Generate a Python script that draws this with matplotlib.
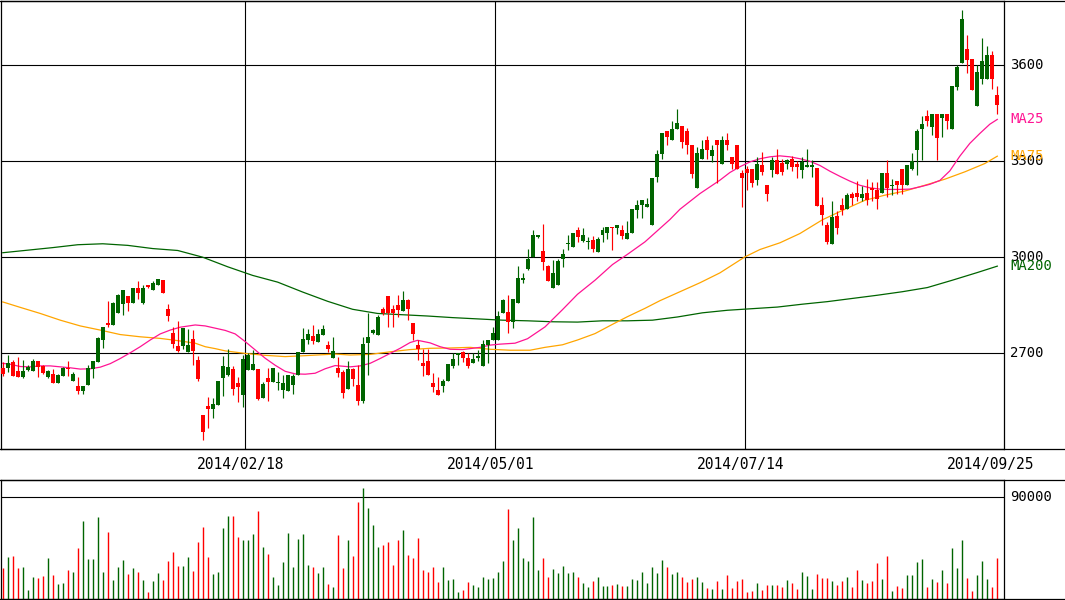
import matplotlib
matplotlib.use("Agg")
import matplotlib.pyplot as plt
import matplotlib.transforms as mtrans
from matplotlib.lines import Line2D

# ---------------- data ----------------
opens = [2654, 2654, 2671, 2643, 2626, 2648, 2644, 2675, 2659, 2626,
         2634, 2607, 2629, 2654, 2613, 2596, 2581, 2600, 2649, 2672,
         2740, 2793, 2788, 2824, 2855, 2878, 2857, 2904, 2857, 2912,
         2896, 2912, 2928, 2839, 2764, 2721, 2722, 2704, 2745, 2678,
         2506, 2534, 2525, 2537, 2622, 2633, 2649, 2607, 2568, 2647,
         2647, 2649, 2558, 2621, 2610, 2605, 2586, 2581, 2600, 2633,
         2702, 2740, 2753, 2735, 2758, 2725, 2685, 2654, 2641, 2589,
         2650, 2600, 2551, 2733, 2764, 2758, 2839, 2878, 2839, 2850,
         2832, 2865, 2795, 2725, 2669, 2675, 2605, 2584, 2597, 2612,
         2660, 2693, 2702, 2685, 2670, 2685, 2660, 2725, 2740, 2740,
         2824, 2829, 2796, 2858, 2930, 2962, 3001, 3064, 3019, 2972,
         2904, 2913, 2993, 3040, 3032, 3084, 3050, 3046, 3053, 3015,
         3071, 3076, 3095, 3090, 3084, 3058, 3076, 3149, 3162, 3157,
         3100, 3251, 3324, 3394, 3366, 3400, 3409, 3394, 3350, 3217,
         3308, 3368, 3317, 3368, 3293, 3368, 3313, 3350, 3264, 3277,
         3277, 3241, 3288, 3227, 3272, 3303, 3295, 3293, 3308, 3293,
         3272, 3282, 3282, 3279, 3162, 3100, 3040, 3128, 3162, 3152,
         3199, 3202, 3185, 3202, 3218, 3209, 3201, 3264, 3223, 3237,
         3275, 3225, 3275, 3334, 3400, 3442, 3407, 3449, 3435, 3449,
         3400, 3532, 3607, 3650, 3619, 3473, 3556, 3556, 3634, 3508]
highs = [2673, 2693, 2678, 2688, 2678, 2664, 2681, 2675, 2662, 2647,
         2649, 2636, 2657, 2675, 2641, 2626, 2596, 2662, 2675, 2751,
         2781, 2863, 2860, 2886, 2896, 2878, 2904, 2925, 2912, 2912,
         2925, 2931, 2928, 2853, 2782, 2801, 2779, 2775, 2771, 2690,
         2506, 2563, 2558, 2612, 2690, 2712, 2660, 2626, 2693, 2699,
         2709, 2649, 2610, 2654, 2654, 2641, 2633, 2631, 2636, 2702,
         2780, 2775, 2787, 2775, 2789, 2737, 2751, 2688, 2646, 2675,
         2654, 2664, 2751, 2824, 2775, 2818, 2845, 2878, 2850, 2881,
         2893, 2870, 2795, 2740, 2714, 2712, 2639, 2626, 2620, 2667,
         2699, 2699, 2707, 2699, 2699, 2709, 2740, 2740, 2782, 2831,
         2869, 2881, 2869, 2972, 2950, 3025, 3084, 3069, 3103, 2977,
         2991, 2993, 3025, 3069, 3077, 3095, 3091, 3064, 3066, 3064,
         3095, 3095, 3095, 3100, 3100, 3112, 3150, 3180, 3178, 3185,
         3249, 3334, 3387, 3394, 3425, 3463, 3409, 3404, 3350, 3345,
         3368, 3378, 3350, 3368, 3378, 3389, 3313, 3350, 3272, 3284,
         3277, 3313, 3329, 3227, 3313, 3337, 3308, 3308, 3317, 3300,
         3313, 3337, 3303, 3279, 3189, 3110, 3175, 3144, 3185, 3201,
         3204, 3237, 3223, 3244, 3235, 3235, 3264, 3303, 3244, 3237,
         3275, 3288, 3327, 3402, 3442, 3459, 3449, 3449, 3449, 3449,
         3534, 3600, 3772, 3694, 3619, 3602, 3685, 3662, 3645, 3537]
lows = [2629, 2641, 2629, 2626, 2623, 2645, 2644, 2626, 2636, 2623,
        2605, 2607, 2629, 2629, 2613, 2573, 2573, 2600, 2623, 2672,
        2716, 2782, 2788, 2824, 2820, 2831, 2857, 2870, 2855, 2905,
        2896, 2912, 2888, 2801, 2717, 2704, 2712, 2704, 2662, 2612,
        2428, 2466, 2497, 2537, 2566, 2629, 2568, 2548, 2532, 2647,
        2647, 2553, 2558, 2551, 2610, 2586, 2560, 2581, 2571, 2633,
        2702, 2730, 2730, 2735, 2758, 2702, 2685, 2626, 2560, 2589,
        2598, 2539, 2545, 2633, 2760, 2758, 2820, 2782, 2782, 2813,
        2832, 2803, 2740, 2678, 2629, 2631, 2579, 2570, 2579, 2612,
        2654, 2662, 2672, 2652, 2670, 2675, 2660, 2670, 2740, 2740,
        2824, 2764, 2779, 2858, 2920, 2959, 3001, 3060, 2959, 2926,
        2904, 2913, 2968, 3024, 3032, 3048, 3048, 3027, 3015, 3015,
        3048, 3058, 3024, 3074, 3058, 3058, 3076, 3123, 3123, 3157,
        3100, 3236, 3308, 3350, 3366, 3400, 3342, 3324, 3248, 3217,
        3308, 3308, 3298, 3233, 3293, 3334, 3277, 3275, 3157, 3209,
        3220, 3225, 3256, 3175, 3251, 3261, 3258, 3275, 3269, 3248,
        3248, 3282, 3251, 3160, 3102, 3041, 3040, 3074, 3133, 3152,
        3162, 3175, 3175, 3162, 3175, 3150, 3201, 3188, 3196, 3199,
        3199, 3225, 3272, 3258, 3303, 3410, 3383, 3303, 3376, 3400,
        3400, 3524, 3607, 3576, 3524, 3473, 3543, 3556, 3525, 3449]
closes = [2634, 2669, 2629, 2626, 2643, 2656, 2675, 2657, 2638, 2643,
          2605, 2631, 2652, 2649, 2636, 2581, 2596, 2654, 2675, 2748,
          2781, 2787, 2857, 2881, 2896, 2857, 2904, 2888, 2904, 2907,
          2920, 2931, 2888, 2815, 2728, 2707, 2777, 2725, 2707, 2618,
          2454, 2525, 2540, 2612, 2659, 2657, 2587, 2594, 2681, 2695,
          2667, 2556, 2603, 2610, 2654, 2610, 2607, 2631, 2629, 2702,
          2743, 2761, 2737, 2759, 2775, 2712, 2706, 2638, 2574, 2650,
          2620, 2551, 2730, 2751, 2771, 2813, 2824, 2824, 2827, 2834,
          2865, 2837, 2759, 2714, 2660, 2631, 2594, 2570, 2612, 2667,
          2683, 2699, 2685, 2660, 2680, 2690, 2730, 2740, 2764, 2815,
          2866, 2796, 2869, 2936, 2936, 2994, 3069, 3069, 2985, 2926,
          2952, 2988, 3010, 3043, 3077, 3064, 3069, 3050, 3027, 3058,
          3084, 3095, 3090, 3100, 3066, 3076, 3150, 3162, 3178, 3167,
          3249, 3324, 3387, 3376, 3400, 3420, 3360, 3350, 3261, 3326,
          3337, 3334, 3334, 3350, 3368, 3350, 3293, 3277, 3248, 3264,
          3232, 3293, 3267, 3199, 3303, 3261, 3267, 3303, 3282, 3282,
          3298, 3287, 3287, 3160, 3133, 3046, 3126, 3092, 3149, 3194,
          3185, 3189, 3199, 3180, 3209, 3181, 3264, 3217, 3227, 3225,
          3225, 3288, 3300, 3394, 3418, 3425, 3449, 3373, 3449, 3425,
          3534, 3595, 3744, 3616, 3524, 3579, 3613, 3634, 3556, 3477]
volumes = [27700, 37500, 38400, 27700, 28600, 8000, 19700, 18800, 20600, 36700,
           21500, 13400, 14300, 25900, 24100, 45600, 68800, 35800, 35800, 72400,
           24100, 59000, 17000, 28600, 34900, 22400, 27700, 24100, 17000, 6300,
           16100, 23200, 17000, 34000, 42000, 29500, 29500, 37500, 25000, 50100,
           63500, 37500, 22400, 24100, 62600, 73300, 73300, 55400, 52700, 52700,
           57200, 77800, 46500, 40200, 19700, 12500, 33100, 58100, 28600, 53600,
           57200, 30400, 28600, 23200, 28600, 13400, 10700, 56300, 27700, 52700,
           38400, 85800, 98300, 80500, 65300, 46500, 48300, 50100, 30400, 52700,
           60800, 39300, 36700, 54500, 25900, 24100, 28600, 15200, 28600, 17000,
           17900, 6300, 8000, 15200, 12500, 10700, 19700, 17900, 18800, 24100,
           34000, 79600, 52700, 62600, 36700, 34000, 72400, 25900, 36700, 19700,
           26800, 23200, 29500, 23200, 24100, 19700, 14300, 10700, 16100, 19700,
           11600, 11600, 12500, 13400, 11600, 11600, 17900, 17000, 24100, 14300,
           28600, 23200, 34900, 28600, 22400, 24100, 19700, 15200, 17900, 19700,
           15200, 9800, 8900, 16100, 8900, 21500, 9800, 16100, 17900, 6300,
           7200, 14300, 8000, 12500, 12500, 12500, 10700, 17000, 14300, 8900,
           24100, 20600, 8900, 22400, 18800, 18800, 16100, 12500, 16100, 19700,
           10700, 25900, 17000, 14300, 16100, 32200, 17900, 38400, 7200, 11600,
           9800, 21500, 21500, 33100, 35800, 10700, 17900, 15200, 25900, 14300,
           45600, 27700, 51900, 18800, 7200, 21500, 34000, 17900, 10700, 36700]

# moving averages: values at the given candle positions
ma25_x = [0, 1.5, 3.5, 5.5, 7.5, 9.5, 11.5, 13.5, 15.5, 17.5, 19.5, 21.5,
          23.5, 25.5, 27.5, 29.5, 31.5, 33.5, 35.5, 38.5, 40.5, 42.5, 44.5,
          46.5, 48.5, 50.5, 52.5, 54.5, 56.5, 58.5, 60.5, 62.5, 64.5, 66.5,
          69.5, 71.5, 73.5, 75.5, 77.5, 79.5, 81.5, 83, 85.5, 87.5, 89.5,
          92, 95.5, 97.5, 99.5, 102.5, 105, 108.5, 112, 115, 118.5, 122,
          125, 128.5, 131.5, 133.5, 135.5, 139.5, 141.5, 143.5, 145.5,
          147.5, 149.5, 151.5, 153.5, 155.5, 157.5, 159.5, 161.5, 163.5,
          165.5, 167.5, 169.5, 171.5, 173.5, 175.5, 177.5, 179.5, 181.5,
          183.5, 185.5, 187.5, 189.5, 191.5, 193.5, 195.5, 197.5, 199]
ma25 = [2668, 2665, 2658, 2657, 2660, 2660, 2657, 2654, 2650, 2651, 2656,
        2667, 2683, 2701, 2720, 2741, 2760, 2772, 2781, 2788, 2785, 2778,
        2771, 2760, 2736, 2710, 2684, 2662, 2643, 2635, 2634, 2637, 2651,
        2661, 2657, 2660, 2668, 2683, 2699, 2715, 2733, 2740, 2732, 2720,
        2712, 2711, 2718, 2725, 2728, 2731, 2745, 2782, 2836, 2884, 2928,
        2977, 3009, 3048, 3090, 3118, 3150, 3199, 3220, 3241, 3265, 3283,
        3298, 3308, 3314, 3317, 3314, 3308, 3300, 3287, 3269, 3253, 3238,
        3225, 3217, 3213, 3212, 3212, 3213, 3220, 3228, 3240, 3270, 3316,
        3356, 3387, 3416, 3431]
ma75_x = [0, 3.5, 7.5, 11.5, 15.5, 19.5, 23.5, 27.5, 31.5, 35, 38.5, 40.5,
          42.5, 44.5, 48.5, 52.5, 56.5, 60.5, 66.5, 69.5, 73.5, 77.5, 81.5,
          85.5, 89.5, 93.5, 97.5, 101.5, 105.5, 108.5, 112, 115, 118.5, 122,
          125, 128.5, 131.5, 135.5, 139.5, 143.5, 148.5, 151.5, 155.5,
          159.5, 164, 168.5, 172.5, 176.5, 180.5, 184.5, 188.5, 192.5,
          196.5, 199]
ma75 = [2860, 2843, 2824, 2803, 2785, 2772, 2758, 2751, 2746, 2739, 2731,
        2720, 2714, 2707, 2699, 2693, 2689, 2692, 2697, 2694, 2696, 2704,
        2711, 2715, 2716, 2718, 2712, 2709, 2709, 2718, 2726, 2741, 2761,
        2790, 2814, 2840, 2864, 2892, 2920, 2951, 3001, 3024, 3045, 3074,
        3117, 3150, 3178, 3194, 3207, 3225, 3244, 3267, 3293, 3316]
ma200_x = [0, 5, 10, 15, 20, 25, 30, 35, 40, 45, 50, 55, 60, 65, 70, 75,
           80, 85, 90, 95, 100, 105, 110, 115, 120, 125, 130, 135, 140, 145,
           150, 155, 160, 165, 170, 175, 180, 185, 190, 195, 199]
ma200 = [3014, 3022, 3030, 3039, 3042, 3037, 3027, 3021, 3000, 2970, 2943,
         2922, 2891, 2862, 2837, 2824, 2820, 2816, 2811, 2807, 2803, 2801,
         2798, 2797, 2801, 2801, 2803, 2813, 2826, 2834, 2839, 2844, 2853,
         2861, 2871, 2881, 2892, 2905, 2928, 2952, 2972]

price_ticks = [2700, 3000, 3300, 3600]
vol_ticks = [90000]
date_labels = ["2014/02/18", "2014/05/01", "2014/07/14", "2014/09/25"]
date_index = [49, 99, 149, 199]
ma_names = ["MA25", "MA75", "MA200"]

# ---------------- styling ----------------
UP = "#006400"
DOWN = "#ff0000"
MA_COLORS = ["#ff1493", "#ffa500", "#006400"]
W, H = 1065, 600
MONO = "DejaVu Sans Mono"

fig = plt.figure(figsize=(W / 100, H / 100), dpi=100)
fig.patch.set_facecolor("white")


def fr(x0, y0, x1, y1):
    return [x0 / W, 1 - y1 / H, (x1 - x0) / W, (y1 - y0) / H]


ax = fig.add_axes(fr(0.5, 0.5, 1004, 449))
axv = fig.add_axes(fr(0.5, 480, 1004, 599))

n = len(closes)
idx = list(range(n))
cols = [UP if c >= o else DOWN for o, c in zip(opens, closes)]

# grid
for p in price_ticks:
    ax.axhline(p, color="black", lw=0.8, zorder=1)
for d in date_index[:-1]:
    ax.axvline(d - 0.5, color="black", lw=0.8, zorder=1)
for v in vol_ticks:
    axv.axhline(v, color="black", lw=0.8, zorder=1)

# moving averages
ax.plot(ma200_x, ma200, color=MA_COLORS[2], lw=0.9, zorder=2)
ax.plot(ma75_x, ma75, color=MA_COLORS[1], lw=0.9, zorder=2)
ax.plot(ma25_x, ma25, color=MA_COLORS[0], lw=0.9, zorder=2)

# candles
ax.vlines(idx, lows, highs, colors=cols, lw=0.85, zorder=3)
bottoms = [min(o, c) for o, c in zip(opens, closes)]
heights = [max(abs(c - o), 3.0) for o, c in zip(opens, closes)]
ax.bar(idx, heights, bottom=bottoms, width=0.8, color=cols, linewidth=0, zorder=4)

ax.set_xlim(-0.46, 200.34)
ax.set_ylim(2400, 3803)
ax.set_xticks([])
ax.set_yticks([])

# volume
axv.vlines(idx, 0, volumes, colors=cols, lw=1.0, zorder=3)
axv.set_xlim(-0.46, 200.34)
axv.set_ylim(0, 105500)
axv.set_xticks([])
axv.set_yticks([])

for a in (ax, axv):
    for s in a.spines.values():
        s.set_linewidth(0.9)
        s.set_color("black")

# frame lines across full width
for yy in (0.5, 449, 480, 599):
    fig.add_artist(Line2D([0, 1], [1 - yy / H] * 2, color="black", lw=0.9,
                          transform=fig.transFigure))

# right-side labels
tr = mtrans.blended_transform_factory(fig.transFigure, ax.transData)
for p in price_ticks:
    ax.text(1010 / W, p, str(p), transform=tr, ha="left", va="center",
            fontsize=10, family=MONO, color="black", clip_on=False)
for name, vals, c in zip(ma_names, [ma25, ma75, ma200], MA_COLORS):
    ax.text(1010 / W, vals[-1], name, transform=tr, ha="left", va="center",
            fontsize=10, family=MONO, color=c, clip_on=False)
trv = mtrans.blended_transform_factory(fig.transFigure, axv.transData)
for v in vol_ticks:
    axv.text(1010 / W, v, str(v), transform=trv, ha="left", va="center",
             fontsize=10, family=MONO, color="black", clip_on=False)

# date labels
trd = mtrans.blended_transform_factory(ax.transData, fig.transFigure)
for d, lab in zip(date_index, date_labels):
    ax.text(d - 1.4, 1 - 464.5 / H, lab, transform=trd, ha="center", va="center",
            fontsize=10.5, family=MONO, color="black", clip_on=False)

fig.savefig("out.png", dpi=100, facecolor="white")
